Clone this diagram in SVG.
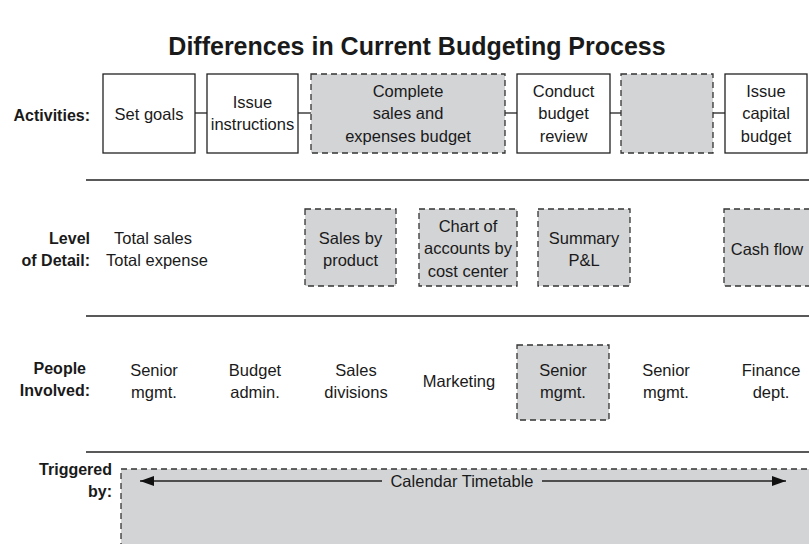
<svg xmlns="http://www.w3.org/2000/svg" width="809" height="544" viewBox="0 0 809 544">
<style>
text{font-family:"Liberation Sans",Arial,Helvetica,sans-serif;fill:#1a1a1a;}
.t{font-size:16.5px;text-anchor:middle;}
.lb{font-size:16px;font-weight:bold;text-anchor:end;}
.title{font-size:25px;font-weight:bold;text-anchor:middle;}
.solid{fill:#fff;stroke:#222;stroke-width:1.3;}
.dash{fill:#d3d4d6;stroke:#333;stroke-width:1.3;stroke-dasharray:6 4;}
.rule{stroke:#222;stroke-width:1.5;}
.conn{stroke:#222;stroke-width:1.3;fill:none;}
</style>
<defs>
<marker id="ah" viewBox="0 0 14 10" refX="14" refY="5" markerWidth="14" markerHeight="10" markerUnits="userSpaceOnUse" orient="auto-start-reverse">
<path d="M0,0 L14,5 L0,10 Z" fill="#111"/>
</marker>
</defs>
<rect width="809" height="544" fill="#fff"/>
<text class="title" x="417" y="55">Differences in Current Budgeting Process</text>

<g id="labels">
<text class="lb" x="90" y="121">Activities:</text>
<text class="lb" x="90" y="244">Level</text>
<text class="lb" x="90" y="266">of Detail:</text>
<text class="lb" x="86" y="374">People</text>
<text class="lb" x="90" y="396">Involved:</text>
<text class="lb" x="112" y="475">Triggered</text>
<text class="lb" x="112" y="497">by:</text>
</g>

<g id="rules">
<line class="rule" x1="86" y1="180" x2="809" y2="180"/>
<line class="rule" x1="86" y1="316" x2="809" y2="316"/>
<line class="rule" x1="86" y1="452" x2="809" y2="452"/>
</g>

<g id="connectors">
<line class="conn" x1="195" y1="113" x2="207" y2="113"/>
<line class="conn" x1="298" y1="113" x2="311" y2="113"/>
<line class="conn" x1="505" y1="113" x2="517" y2="113"/>
<line class="conn" x1="610" y1="113" x2="621" y2="113"/>
<line class="conn" x1="713" y1="113" x2="725" y2="113"/>
</g>

<g id="act-setgoals"><rect class="solid" x="103" y="74" width="92" height="79"/><text class="t" x="149" y="120">Set goals</text></g>
<g id="act-issue"><rect class="solid" x="207" y="74" width="91" height="79"/><text class="t" x="252.5" y="108">Issue</text><text class="t" x="252.5" y="130">instructions</text></g>
<g id="act-complete"><rect class="dash" x="311" y="74" width="194" height="79"/><text class="t" x="408" y="97">Complete</text><text class="t" x="408" y="119">sales and</text><text class="t" x="408" y="142">expenses budget</text></g>
<g id="act-conduct"><rect class="solid" x="517" y="74" width="93" height="79"/><text class="t" x="563.5" y="97">Conduct</text><text class="t" x="563.5" y="119">budget</text><text class="t" x="563.5" y="142">review</text></g>
<g id="act-blank"><rect class="dash" x="621" y="74" width="92" height="79"/></g>
<g id="act-capital"><rect class="solid" x="725" y="74" width="82" height="79"/><text class="t" x="766" y="97">Issue</text><text class="t" x="766" y="119">capital</text><text class="t" x="766" y="142">budget</text></g>

<g id="det-total"><text class="t" x="153" y="244">Total sales</text><text class="t" x="157" y="266">Total expense</text></g>
<g id="det-sales"><rect class="dash" x="305" y="209" width="91" height="77"/><text class="t" x="350.5" y="244">Sales by</text><text class="t" x="350.5" y="266">product</text></g>
<g id="det-chart"><rect class="dash" x="419" y="209" width="98" height="77"/><text class="t" x="468" y="232">Chart of</text><text class="t" x="468" y="254">accounts by</text><text class="t" x="468" y="277">cost center</text></g>
<g id="det-summary"><rect class="dash" x="538" y="209" width="92" height="77"/><text class="t" x="584" y="244">Summary</text><text class="t" x="584" y="266">P&amp;L</text></g>
<g id="det-cash"><rect class="dash" x="724" y="209" width="100" height="77"/><text class="t" x="767" y="255">Cash flow</text></g>

<g id="ppl-senior1"><text class="t" x="154" y="376">Senior</text><text class="t" x="154" y="398">mgmt.</text></g>
<g id="ppl-budget"><text class="t" x="255" y="376">Budget</text><text class="t" x="255" y="398">admin.</text></g>
<g id="ppl-sales"><text class="t" x="356" y="376">Sales</text><text class="t" x="356" y="398">divisions</text></g>
<g id="ppl-marketing"><text class="t" x="459" y="387">Marketing</text></g>
<g id="ppl-senior2"><rect class="dash" x="517" y="345" width="92" height="75"/><text class="t" x="563" y="376">Senior</text><text class="t" x="563" y="398">mgmt.</text></g>
<g id="ppl-senior3"><text class="t" x="666" y="376">Senior</text><text class="t" x="666" y="398">mgmt.</text></g>
<g id="ppl-finance"><text class="t" x="771" y="376">Finance</text><text class="t" x="771" y="398">dept.</text></g>

<g id="trigger">
<rect class="dash" x="121" y="469" width="700" height="90"/>
<line class="conn" x1="382" y1="481" x2="140" y2="481" marker-end="url(#ah)"/>
<line class="conn" x1="542" y1="481" x2="786" y2="481" marker-end="url(#ah)"/>
<text class="t" x="462" y="487">Calendar Timetable</text>
</g>
</svg>
